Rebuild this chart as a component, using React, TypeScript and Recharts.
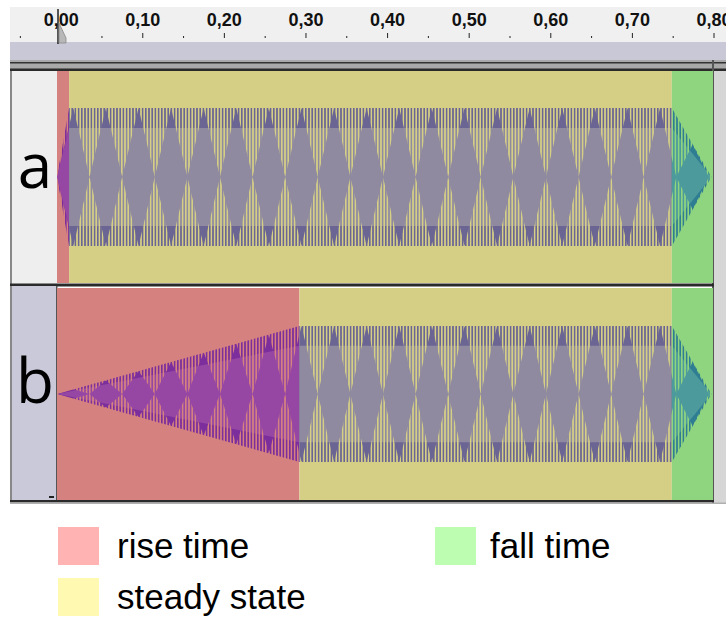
import { ComposedChart, Area, XAxis, YAxis } from "recharts";

type Pt = [number, number];

// time ruler, seconds
const RULER_TICKS = [-0.05, 0, 0.05, 0.1, 0.15, 0.2, 0.25, 0.3, 0.35, 0.4, 0.45, 0.5, 0.55, 0.6, 0.65, 0.7, 0.75, 0.8];

const PHASES = ["rise time", "steady state", "fall time"];

// phase spans per track [start, end] in seconds
const PHASES_A: Pt[] = [[-0.005, 0.0098], [0.0098, 0.7495], [0.7495, 0.8]];
const PHASES_B: Pt[] = [[-0.005, 0.2925], [0.2925, 0.7495], [0.7495, 0.8]];

// peak envelope (1 = full scale)
const PEAK_A: Pt[] = [[-0.005, 0], [0.0098, 1], [0.7495, 1], [0.798, 0]];
const PEAK_B: Pt[] = [[-0.005, 0], [0.2925, 1], [0.7495, 1], [0.798, 0]];

// rms envelope
const RMS_A: Pt[] = [[-0.005, 0], [0.0098, 0.71], [0.7495, 0.71], [0.798, 0]];
const RMS_B: Pt[] = [[-0.005, 0], [0.2925, 0.71], [0.7495, 0.71], [0.798, 0]];

// inner edge of the striped (beating) zone: 0 at beat nodes
const GAP_RISE_A: Pt[] = [[-0.005, 0], [0.0098, 0.74]];
const GAP_RISE_B: Pt[] = [
  [-0.005, 0], [0.015, 0.07], [0.035, 0], [0.055, 0.2], [0.075, 0], [0.095, 0.34], [0.115, 0],
  [0.135, 0.47], [0.155, 0], [0.175, 0.61], [0.195, 0], [0.215, 0.74], [0.235, 0], [0.255, 0.87],
  [0.275, 0], [0.2925, 0.88],
];
const GAP_STEADY: Pt[] = [
  [0.015, 1], [0.035, 0], [0.055, 1], [0.075, 0], [0.095, 1], [0.115, 0], [0.135, 1], [0.155, 0],
  [0.175, 1], [0.195, 0], [0.215, 1], [0.235, 0], [0.255, 1], [0.275, 0], [0.295, 1], [0.315, 0],
  [0.335, 1], [0.355, 0], [0.375, 1], [0.395, 0], [0.415, 1], [0.435, 0], [0.455, 1], [0.475, 0],
  [0.495, 1], [0.515, 0], [0.535, 1], [0.555, 0], [0.575, 1], [0.595, 0], [0.615, 1], [0.635, 0],
  [0.655, 1], [0.675, 0], [0.695, 1], [0.715, 0], [0.735, 1],
];
const GAP_FALL: Pt[] = [[0.7495, 0.27], [0.755, 0], [0.775, 0.47], [0.795, 0], [0.798, 0]];

const PHASE_BG = ["#d4817f", "#d5cf86", "#8fd47f"];
const PHASE_PEAK = ["#7b2e9c", "#6b6594", "#2f7d93"];
const PHASE_RMS = ["#9647a4", "#8f8a9f", "#4c9a9b"];
const LEGEND_COLORS = ["#ffb3b3", "#fff9b2", "#bdfdb1"];

const X_DOMAIN: Pt = [-0.005, 0.8];
const FONT = "'Liberation Sans', Arial, sans-serif";

const slice = (pts: Pt[], [a, b]: Pt) => pts.filter(([t]) => t >= a && t <= b);

function RulerTick(props: any) {
  const { x, y, payload } = props;
  const v = payload.value;
  const major = Math.abs(v * 10 - Math.round(v * 10)) < 1e-6;
  return (
    <g>
      <line x1={x} x2={x} y1={major ? y - 5 : y - 2} y2={y} stroke="#222" strokeWidth={1} />
      {major && v >= 0 && (
        <text x={x} y={y - 12} textAnchor="middle" fontFamily={FONT} fontWeight="bold" fontSize={18} fill="#111">
          {v.toFixed(2).replace(".", ",")}
        </text>
      )}
    </g>
  );
}

function Track({ id, top, yMax, phases, peak, rms, gap }: any) {
  const areas: any[] = [];
  phases.forEach((span: Pt, i: number) => {
    areas.push(
      <Area key={`bg${i}`} data={[{ t: span[0], v: [-yMax, yMax] }, { t: span[1], v: [-yMax, yMax] }]}
        dataKey="v" type="linear" fill={PHASE_BG[i]} fillOpacity={1} stroke="none" isAnimationActive={false} />
    );
  });
  phases.forEach((span: Pt, i: number) => {
    const p = slice(peak, span).map(([t, e]) => ({ t, v: [-e, e] }));
    const r = slice(rms, span).map(([t, e]) => ({ t, v: [-e, e] }));
    const g = slice(gap, span);
    areas.push(
      <Area key={`pk${i}`} data={p} dataKey="v" type="linear" fill={PHASE_PEAK[i]} fillOpacity={1} stroke="none" isAnimationActive={false} />,
      <Area key={`rm${i}`} data={r} dataKey="v" type="linear" fill={PHASE_RMS[i]} fillOpacity={1} stroke="none" isAnimationActive={false} />,
      <Area key={`gt${i}`} data={g.map(([t, e]) => ({ t, v: [e, 1] }))} dataKey="v" type="linear"
        fill={`url(#st-${id}-${i})`} fillOpacity={1} stroke="none" isAnimationActive={false} />,
      <Area key={`gb${i}`} data={g.map(([t, e]) => ({ t, v: [-1, -e] }))} dataKey="v" type="linear"
        fill={`url(#st-${id}-${i})`} fillOpacity={1} stroke="none" isAnimationActive={false} />
    );
  });
  return (
    <div style={{ position: "absolute", left: 57, top }}>
      <ComposedChart width={656} height={212} margin={{ top: 0, right: 0, bottom: 0, left: 0 }}>
        <defs>
          {PHASE_BG.map((c, i) => (
            <pattern key={i} id={`st-${id}-${i}`} width={3.2} height={4} patternUnits="userSpaceOnUse">
              <rect x={0} y={0} width={1.6} height={4} fill={c} />
            </pattern>
          ))}
        </defs>
        <XAxis type="number" dataKey="t" domain={X_DOMAIN} hide allowDataOverflow />
        <YAxis type="number" domain={[-yMax, yMax]} hide allowDataOverflow />
        {areas}
      </ComposedChart>
    </div>
  );
}

export default function App() {
  const gapA = [...GAP_RISE_A, ...GAP_STEADY.filter(([t]) => t > 0.0098 && t < 0.7495), ...GAP_FALL];
  const gapB = [...GAP_RISE_B, ...GAP_STEADY.filter(([t]) => t > 0.2925 && t < 0.7495), ...GAP_FALL];
  return (
    <div style={{ position: "absolute", left: 0, top: 0, width: 726, height: 617, background: "#fff", overflow: "hidden", fontFamily: FONT }}>
      <svg width={726} height={617} style={{ position: "absolute", left: 0, top: 0 }}>
        {/* ruler + timeline band */}
        <rect x={10} y={7} width={716} height={35} fill="#f0f0f0" />
        <rect x={10} y={42} width={716} height={18} fill="#c8c8d6" />
        <rect x={10} y={60} width={716} height={11} fill="#a9a9a9" />
        <rect x={10} y={62} width={716} height={1.5} fill="#333" />
        <rect x={10} y={68.5} width={716} height={2.5} fill="#2a2a2a" />
        {/* right gutter */}
        <rect x={713} y={71} width={13} height={432} fill="#d6d6d6" />
        <rect x={712} y={60} width={2} height={443} fill="#555" />
        {/* track a panel */}
        <rect x={10} y={71} width={2} height={213} fill="#888" />
        <rect x={12} y={71} width={45} height={213} fill="#eeeeee" />
        <text x={35} y={188} textAnchor="middle" fontFamily="'Open Sans', sans-serif" fontSize={62} fill="#000">a</text>
        {/* separator */}
        <rect x={10} y={283.5} width={704} height={3} fill="#2a2a2a" />
        {/* track b panel */}
        <rect x={10} y={286} width={2} height={216} fill="#888" />
        <rect x={12} y={286} width={44} height={215} fill="#c9c9d9" />
        <rect x={56} y={286} width={1.5} height={215} fill="#555" />
        <rect x={49} y={496} width={5} height={2} fill="#222" />
        <text x={35} y={403} textAnchor="middle" fontFamily="'Open Sans', sans-serif" fontSize={62} fill="#000">b</text>
        <rect x={10} y={500} width={704} height={2.5} fill="#2a2a2a" />
        <rect x={10} y={502.5} width={716} height={1.5} fill="#b0b0b0" />
        {/* legend */}
        <rect x={58} y={527} width={41} height={38} fill={LEGEND_COLORS[0]} />
        <text x={117} y={558} fontSize={35} fontFamily={FONT} fill="#000">{PHASES[0]}</text>
        <rect x={58} y={578} width={41} height={38} fill={LEGEND_COLORS[1]} />
        <text x={117} y={609} fontSize={35} fontFamily={FONT} fill="#000">{PHASES[1]}</text>
        <rect x={435} y={527} width={41} height={38} fill={LEGEND_COLORS[2]} />
        <text x={490} y={558} fontSize={35} fontFamily={FONT} fill="#000">{PHASES[2]}</text>
      </svg>

      <div style={{ position: "absolute", left: 10, top: 0 }}>
        <ComposedChart width={716} height={42} data={RULER_TICKS.map((t) => ({ t }))} margin={{ top: 0, right: 12, bottom: 0, left: 0 }}>
          <XAxis orientation="top" type="number" dataKey="t" domain={[-0.0627, 0.8]} ticks={RULER_TICKS} interval={0}
            height={38} axisLine={false} tickLine={false} tickSize={0} tickMargin={0} tick={<RulerTick />} allowDataOverflow />
          <YAxis hide />
        </ComposedChart>
      </div>

      <Track id="a" top={71} yMax={1.536} phases={PHASES_A} peak={PEAK_A} rms={RMS_A} gap={gapA} />
      <Track id="b" top={288} yMax={1.56} phases={PHASES_B} peak={PEAK_B} rms={RMS_B} gap={gapB} />

      {/* play-head marker */}
      <svg width={80} height={50} style={{ position: "absolute", left: 0, top: 0 }}>
        <line x1={58} x2={58} y1={9} y2={44} stroke="#222" strokeWidth={1.5} />
        <polygon points="59,23 66,38 66,43 59,43" fill="#b8b8b8" stroke="#888" strokeWidth={0.8} />
      </svg>
    </div>
  );
}
